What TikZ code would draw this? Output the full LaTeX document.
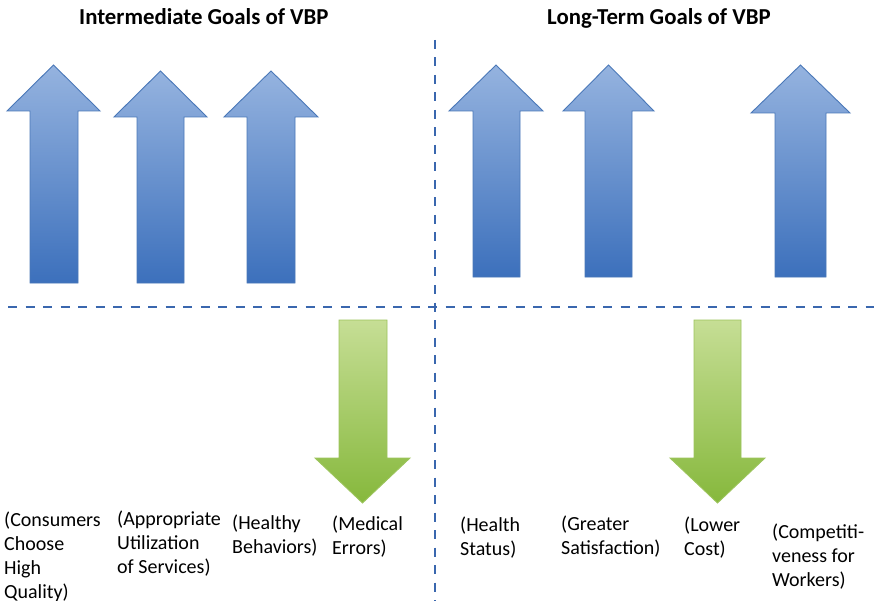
\documentclass[tikz,border=0pt]{standalone}
\usepackage{fontspec}
\setmainfont{Carlito}
\begin{document}
\begin{tikzpicture}[x=1pt,y=-1pt,
  goalhead/.style={font=\bfseries\fontsize{22.8}{26}\selectfont, inner sep=0pt, anchor=base west},
  goallabel/.style={font=\fontsize{20}{24}\selectfont, inner sep=0pt, anchor=base west, align=left},
  divider/.style={draw=dashblue, line width=2.6pt, dash pattern=on 9pt off 8.5pt},
  risearrow/.style={draw=blueedge, line width=0.9pt, top color=bluetop, bottom color=bluebot, line join=miter},
  droparrow/.style={draw=greenedge, line width=0.9pt, top color=greentop, bottom color=greenbot, line join=miter}]
\definecolor{dashblue}{HTML}{3A67AE}
\definecolor{blueedge}{HTML}{4A78B8}
\definecolor{bluetop}{HTML}{95B3DF}
\definecolor{bluebot}{HTML}{3C70BC}
\definecolor{greenedge}{HTML}{9CC45C}
\definecolor{greentop}{HTML}{C6DE95}
\definecolor{greenbot}{HTML}{86B83C}

\useasboundingbox (0,0) rectangle (874,601);
\fill[white] (0,0) rectangle (874,601);

% block arrow: shaft left/right, head left/right, tip y, head base y, tail y
\newcommand\blockarrow[8]{%
  \path[#1] (#2,#8) -- (#2,#7) -- (#4,#7) -- ({(#4+#5)/2},#6) -- (#5,#7)
    -- (#3,#7) -- (#3,#8) -- cycle;}

% quadrant dividers
\coordinate (vtop) at (435,40);
\coordinate (vbot) at (435,601);
\coordinate (hleft) at (8,307);
\coordinate (hright) at (874,307);
\draw[divider] (vtop) -- (vbot);
\draw[divider] (hleft) -- (hright);

% headings
\node[goalhead] (inter) at (79,25) {Intermediate Goals of VBP};
\node[goalhead] (longt) at (547,25) {Long-Term Goals of VBP};

% rising goals
\blockarrow{risearrow}{30}{78}{7}{100}{65}{111}{283}
\blockarrow{risearrow}{137}{184}{114}{207}{71}{117}{283}
\blockarrow{risearrow}{247}{295}{224}{318}{71}{117}{283}
\blockarrow{risearrow}{473}{520}{449}{543}{65}{111}{277}
\blockarrow{risearrow}{585}{632}{563}{654}{65}{111}{277}
\blockarrow{risearrow}{775}{826}{751}{850}{65}{113}{277}

% falling goals
\blockarrow{droparrow}{339}{387}{315}{410}{503}{458}{320}
\blockarrow{droparrow}{694}{741}{670}{765}{503}{458}{320}

% goal labels (placed at the baseline of their last line)
\node[goallabel] (l1) at (4,598) {(Consumers\\Choose\\High\\Quality)};
\node[goallabel] (l2) at (117,573) {(Appropriate\\Utilization\\of Services)};
\node[goallabel] (l3) at (232,553) {(Healthy\\Behaviors)};
\node[goallabel] (l4) at (332,554) {(Medical\\Errors)};
\node[goallabel] (r1) at (460,555) {(Health\\Status)};
\node[goallabel] (r2) at (561,554) {(Greater\\Satisfaction)};
\node[goallabel] (r3) at (684,555) {(Lower\\Cost)};
\node[goallabel] (r4) at (772,586) {(Competiti-\\veness for\\Workers)};
\end{tikzpicture}
\end{document}
